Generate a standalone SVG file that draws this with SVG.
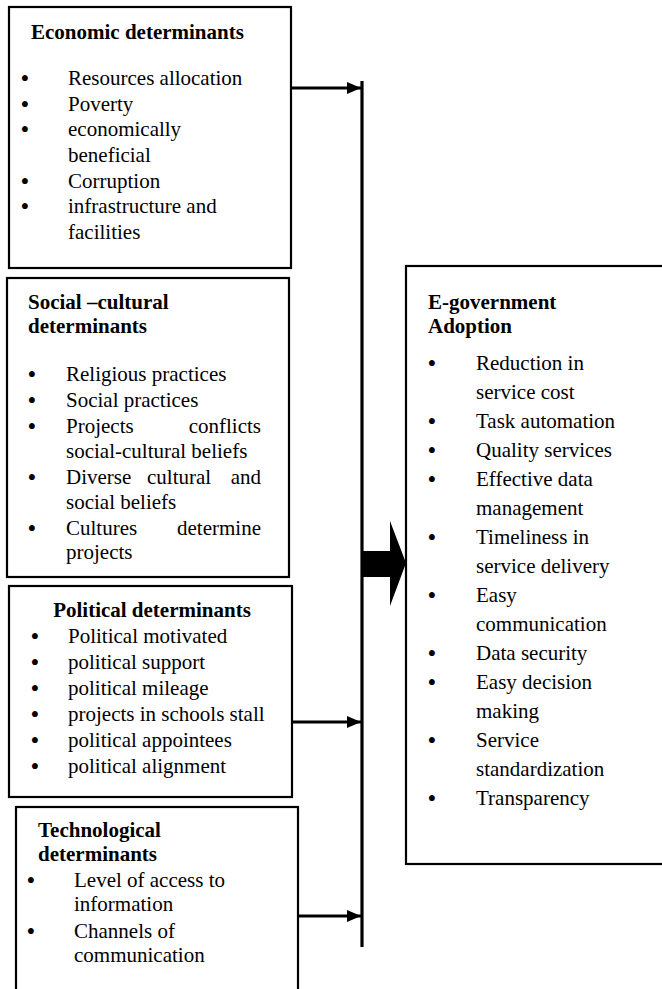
<svg xmlns="http://www.w3.org/2000/svg" width="662" height="989" viewBox="0 0 662 989">
  <style>
    .box { fill: #fff; stroke: #000; stroke-width: 2.2; }
    .t { font-family: "Liberation Serif", "Times New Roman", serif; font-size: 21px; fill: #000; }
    .h { font-family: "Liberation Serif", "Times New Roman", serif; font-size: 21px; font-weight: bold; fill: #000; }
    .b { font-family: "Liberation Serif", "Times New Roman", serif; font-size: 25px; fill: #000; }
    .wire { fill: none; stroke: #000; stroke-width: 3.2; }
  </style>
  <defs>
    <marker id="head" markerUnits="userSpaceOnUse" markerWidth="14" markerHeight="14" viewBox="0 0 14 14" refX="14" refY="7" orient="auto">
      <path d="M0,1 L14,7 L0,13 Z" fill="#000"/>
    </marker>
  </defs>
  <rect width="662" height="989" fill="#fff"/>

  <g id="economic">
    <rect class="box" x="9" y="7" width="282" height="261"/>
    <text class="h" x="31" y="39">Economic determinants</text>
    <g class="b">
      <text x="20.5" y="87">•</text>
      <text x="20.5" y="113">•</text>
      <text x="20.5" y="138">•</text>
      <text x="20.5" y="190">•</text>
      <text x="20.5" y="215">•</text>
    </g>
    <g class="t">
      <text x="68" y="85">Resources allocation</text>
      <text x="68" y="111">Poverty</text>
      <text x="68" y="136">economically</text>
      <text x="68" y="162">beneficial</text>
      <text x="68" y="188">Corruption</text>
      <text x="68" y="213">infrastructure and</text>
      <text x="68" y="239">facilities</text>
    </g>
  </g>

  <g id="social">
    <rect class="box" x="7" y="278" width="282" height="299"/>
    <text class="h" x="28" y="309">Social –cultural</text>
    <text class="h" x="28" y="333">determinants</text>
    <g class="b">
      <text x="27.5" y="383">•</text>
      <text x="27.5" y="409">•</text>
      <text x="27.5" y="435">•</text>
      <text x="27.5" y="486">•</text>
      <text x="27.5" y="537">•</text>
    </g>
    <g class="t">
      <text x="66" y="381">Religious practices</text>
      <text x="66" y="407">Social practices</text>
      <text x="66" y="433">Projects</text><text x="261" y="433" text-anchor="end">conflicts</text>
      <text x="66" y="458">social-cultural beliefs</text>
      <text x="66" y="484">Diverse</text><text x="147" y="484">cultural</text><text x="261" y="484" text-anchor="end">and</text>
      <text x="66" y="509">social beliefs</text>
      <text x="66" y="535">Cultures</text><text x="261" y="535" text-anchor="end">determine</text>
      <text x="66" y="559">projects</text>
    </g>
  </g>

  <g id="political">
    <rect class="box" x="9" y="586" width="283" height="211"/>
    <text class="h" x="152" y="617" text-anchor="middle">Political determinants</text>
    <g class="b">
      <text x="30.5" y="645">•</text>
      <text x="30.5" y="671">•</text>
      <text x="30.5" y="697">•</text>
      <text x="30.5" y="723">•</text>
      <text x="30.5" y="749">•</text>
      <text x="30.5" y="775">•</text>
    </g>
    <g class="t">
      <text x="68" y="643">Political motivated</text>
      <text x="68" y="669">political support</text>
      <text x="68" y="695">political mileage</text>
      <text x="68" y="721">projects in schools stall</text>
      <text x="68" y="747">political appointees</text>
      <text x="68" y="773">political alignment</text>
    </g>
  </g>

  <g id="technological">
    <rect class="box" x="16" y="807" width="282" height="200"/>
    <text class="h" x="38" y="837">Technological</text>
    <text class="h" x="38" y="861">determinants</text>
    <g class="b">
      <text x="26.5" y="889">•</text>
      <text x="26.5" y="940">•</text>
    </g>
    <g class="t">
      <text x="74" y="887">Level of access to</text>
      <text x="74" y="911">information</text>
      <text x="74" y="938">Channels of</text>
      <text x="74" y="962">communication</text>
    </g>
  </g>

  <g id="egov-adoption">
    <rect class="box" x="406" y="266" width="270" height="598"/>
    <text class="h" x="428" y="309">E-government</text>
    <text class="h" x="428" y="333">Adoption</text>
    <g class="b">
      <text x="427.5" y="372">•</text>
      <text x="427.5" y="430">•</text>
      <text x="427.5" y="459">•</text>
      <text x="427.5" y="488">•</text>
      <text x="427.5" y="546">•</text>
      <text x="427.5" y="604">•</text>
      <text x="427.5" y="662">•</text>
      <text x="427.5" y="691">•</text>
      <text x="427.5" y="749">•</text>
      <text x="427.5" y="807">•</text>
    </g>
    <g class="t">
      <text x="476" y="370">Reduction in</text>
      <text x="476" y="399">service cost</text>
      <text x="476" y="428">Task automation</text>
      <text x="476" y="457">Quality services</text>
      <text x="476" y="486">Effective data</text>
      <text x="476" y="515">management</text>
      <text x="476" y="544">Timeliness in</text>
      <text x="476" y="573">service delivery</text>
      <text x="476" y="602">Easy</text>
      <text x="476" y="631">communication</text>
      <text x="476" y="660">Data security</text>
      <text x="476" y="689">Easy decision</text>
      <text x="476" y="718">making</text>
      <text x="476" y="747">Service</text>
      <text x="476" y="776">standardization</text>
      <text x="476" y="805">Transparency</text>
    </g>
  </g>

  <g id="connectors">
    <line class="wire" x1="362" y1="81" x2="362" y2="947"/>
    <line class="wire" x1="291" y1="88" x2="361" y2="88" marker-end="url(#head)"/>
    <line class="wire" x1="292" y1="722" x2="361" y2="722" marker-end="url(#head)"/>
    <line class="wire" x1="298" y1="916" x2="361" y2="916" marker-end="url(#head)"/>
    <path d="M361,551 L390,551 L390,521 L406,563 L390,606 L390,577 L361,577 Z" fill="#000"/>
  </g>
</svg>
